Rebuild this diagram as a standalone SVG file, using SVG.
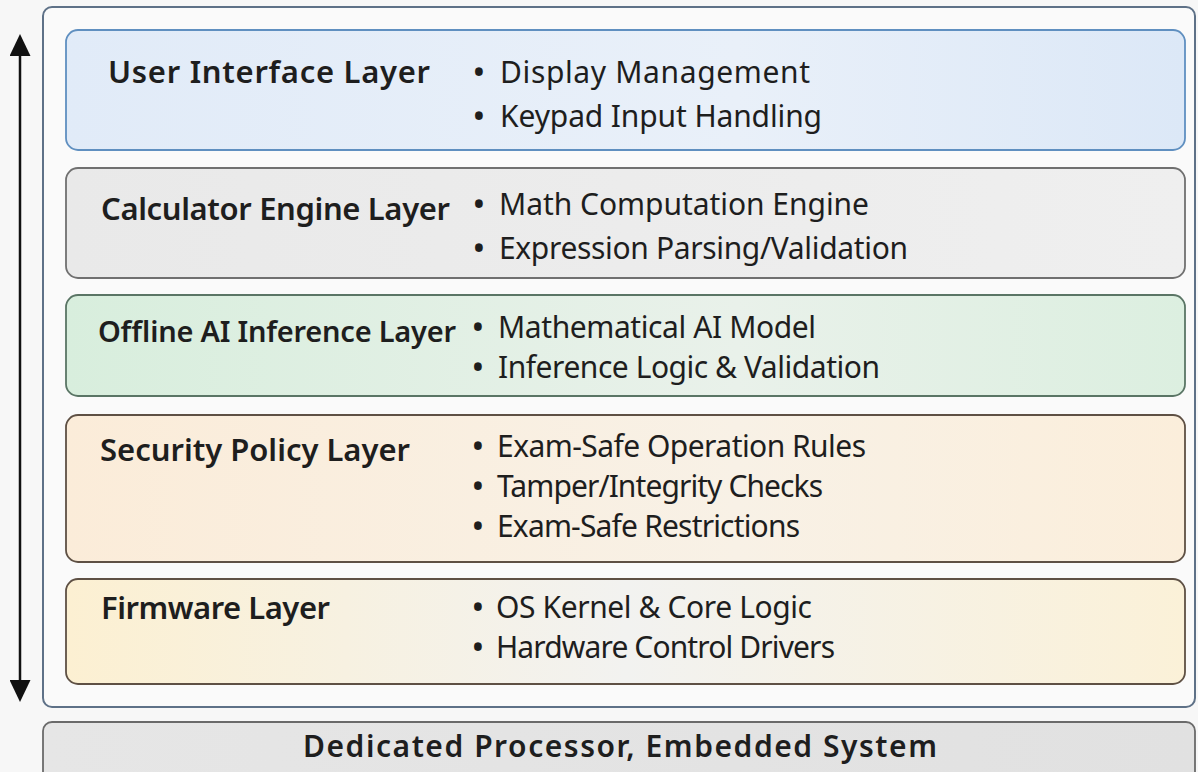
<svg xmlns="http://www.w3.org/2000/svg" width="1198" height="772" viewBox="0 0 1198 772">
  <defs>
    <linearGradient id="gBlue" x1="0" y1="0" x2="1" y2="0">
      <stop offset="0" stop-color="#e1ebf8"/>
      <stop offset="0.6" stop-color="#e9f0f9"/>
      <stop offset="1" stop-color="#dce8f7"/>
    </linearGradient>
    <linearGradient id="gGray" x1="0" y1="0" x2="1" y2="0">
      <stop offset="0" stop-color="#e9e9e9"/>
      <stop offset="1" stop-color="#efefef"/>
    </linearGradient>
    <linearGradient id="gGreen" x1="0" y1="0" x2="1" y2="0">
      <stop offset="0" stop-color="#d8eedd"/>
      <stop offset="0.6" stop-color="#e9f1ea"/>
      <stop offset="1" stop-color="#dcefe0"/>
    </linearGradient>
    <linearGradient id="gPeach" x1="0" y1="0" x2="1" y2="0">
      <stop offset="0" stop-color="#fbecd9"/>
      <stop offset="0.6" stop-color="#f8f1e6"/>
      <stop offset="1" stop-color="#fbeedb"/>
    </linearGradient>
    <linearGradient id="gYellow" x1="0" y1="0" x2="1" y2="0">
      <stop offset="0" stop-color="#fcf0d2"/>
      <stop offset="0.5" stop-color="#f2f2f0"/>
      <stop offset="1" stop-color="#fbf1d8"/>
    </linearGradient>
    <linearGradient id="gBase" x1="0" y1="0" x2="1" y2="0">
      <stop offset="0" stop-color="#e6e6e6"/>
      <stop offset="1" stop-color="#e1e1e1"/>
    </linearGradient>
    <!-- solid triangular head, drawn pointing along +x -->
    <marker id="head" viewBox="0 0 22 21" refX="0" refY="10.5" markerWidth="22" markerHeight="21" markerUnits="userSpaceOnUse" orient="auto-start-reverse">
      <path d="M0,0 L22,10.5 L0,21 Z" fill="#111"/>
    </marker>
  </defs>
  <style>
    .title { font-family: "Noto Sans", "Open Sans", sans-serif; font-weight: 600; font-size: 31px; fill: #1e1e1e; }
    .title.compact { font-size: 29px; }
    .item { font-family: "Noto Sans", "Open Sans", sans-serif; font-weight: 400; font-size: 30px; fill: #1e1e1e; }
    .dot { font-family: "Noto Sans", "Open Sans", sans-serif; font-weight: 600; font-size: 30px; fill: #1e1e1e; text-anchor: middle; }
    .base { font-family: "Noto Sans", "Open Sans", sans-serif; font-weight: 600; font-size: 30px; fill: #1e1e1e; }
    .layer { stroke-width: 1.8; }
  </style>

  <rect width="1198" height="772" fill="#f7f7f7"/>

  <!-- outer stack frame -->
  <g id="stack-frame">
    <rect x="43" y="7" width="1152" height="700" rx="9" fill="#fafafa" stroke="#5e7187" stroke-width="2"/>
  </g>

  <!-- vertical two-way flow arrow -->
  <g id="connectors">
    <line x1="20" y1="56" x2="20" y2="680" stroke="#111" stroke-width="2.5" marker-start="url(#head)" marker-end="url(#head)"/>
  </g>

  <g id="user-interface-layer">
    <rect class="layer" x="66" y="30" width="1119" height="120" rx="12" fill="url(#gBlue)" stroke="#5f8fc0"/>
    <text class="title" x="108" y="83" textLength="322" lengthAdjust="spacing">User Interface Layer</text>
    <text class="dot" x="479" y="83">•</text>
    <text class="item" x="500" y="83" textLength="310" lengthAdjust="spacing">Display Management</text>
    <text class="dot" x="479" y="127">•</text>
    <text class="item" x="500" y="127" textLength="322" lengthAdjust="spacing">Keypad Input Handling</text>
  </g>

  <g id="calculator-engine-layer">
    <rect class="layer" x="66" y="168" width="1119" height="110" rx="12" fill="url(#gGray)" stroke="#707070"/>
    <text class="title" x="101" y="220" textLength="349" lengthAdjust="spacing">Calculator Engine Layer</text>
    <text class="dot" x="479" y="215">•</text>
    <text class="item" x="499" y="215" textLength="370" lengthAdjust="spacing">Math Computation Engine</text>
    <text class="dot" x="479" y="259">•</text>
    <text class="item" x="499" y="259" textLength="409" lengthAdjust="spacing">Expression Parsing/Validation</text>
  </g>

  <g id="offline-ai-inference-layer">
    <rect class="layer" x="66" y="295" width="1119" height="101" rx="12" fill="url(#gGreen)" stroke="#5a7565"/>
    <text class="title compact" x="98" y="342" textLength="358" lengthAdjust="spacing">Offline AI Inference Layer</text>
    <text class="dot" x="478" y="338">•</text>
    <text class="item" x="498" y="338" textLength="318" lengthAdjust="spacing">Mathematical AI Model</text>
    <text class="dot" x="478" y="378">•</text>
    <text class="item" x="498" y="378" textLength="382" lengthAdjust="spacing">Inference Logic &amp; Validation</text>
  </g>

  <g id="security-policy-layer">
    <rect class="layer" x="66" y="415" width="1119" height="147" rx="12" fill="url(#gPeach)" stroke="#5e5044"/>
    <text class="title" x="100" y="461" textLength="310" lengthAdjust="spacing">Security Policy Layer</text>
    <text class="dot" x="478" y="457">•</text>
    <text class="item" x="497" y="457" textLength="369" lengthAdjust="spacing">Exam-Safe Operation Rules</text>
    <text class="dot" x="478" y="497">•</text>
    <text class="item" x="497" y="497" textLength="326" lengthAdjust="spacing">Tamper/Integrity Checks</text>
    <text class="dot" x="478" y="537">•</text>
    <text class="item" x="497" y="537" textLength="303" lengthAdjust="spacing">Exam-Safe Restrictions</text>
  </g>

  <g id="firmware-layer">
    <rect class="layer" x="66" y="579" width="1119" height="105" rx="12" fill="url(#gYellow)" stroke="#5e5044"/>
    <text class="title" x="101" y="619" textLength="229" lengthAdjust="spacing">Firmware Layer</text>
    <text class="dot" x="478" y="618">•</text>
    <text class="item" x="496" y="618" textLength="316" lengthAdjust="spacing">OS Kernel &amp; Core Logic</text>
    <text class="dot" x="478" y="658">•</text>
    <text class="item" x="496" y="658" textLength="339" lengthAdjust="spacing">Hardware Control Drivers</text>
  </g>

  <g id="hardware-base">
    <rect x="43" y="722" width="1152" height="60" rx="9" fill="url(#gBase)" stroke="#6a6a6a" stroke-width="1.8"/>
    <text class="base" x="303" y="757" textLength="634" lengthAdjust="spacing">Dedicated Processor, Embedded System</text>
  </g>
</svg>
